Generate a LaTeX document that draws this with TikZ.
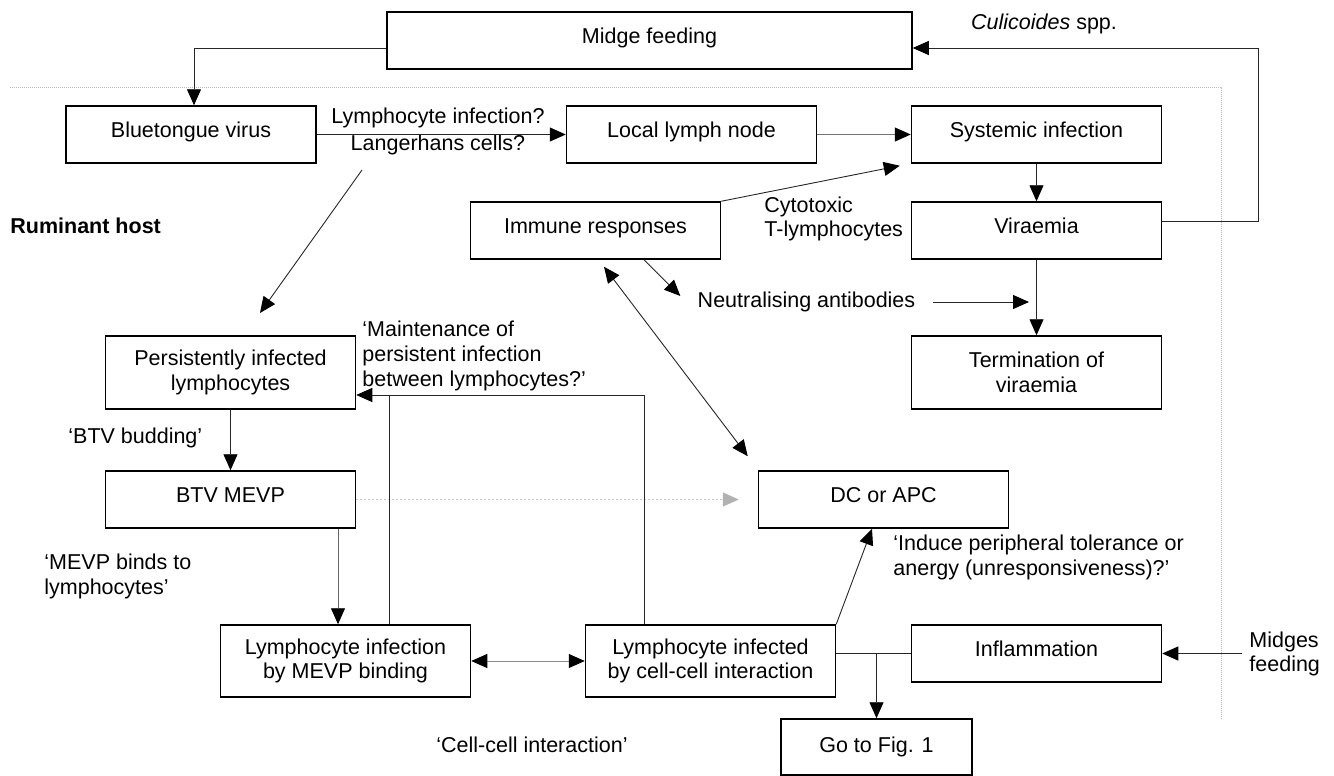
\documentclass[tikz,border=0pt]{standalone}
\usepackage{fontspec}
\setmainfont{Liberation Sans}
\usetikzlibrary{arrows.meta}
\newcommand\diagfont{\fontsize{10.75pt}{12.3pt}\selectfont}
\begin{document}
\begin{tikzpicture}[x=0.5pt,y=-0.5pt,font=\diagfont,
  box/.style={draw=black, line width=0.75pt, minimum width=125pt, minimum height=28.5pt, inner sep=2pt, align=center},
  one/.style={text height=8pt, text depth=5pt},
  lbl/.style={inner sep=0pt, align=left},
  conn/.style={draw=black!85, line width=0.45pt},
  arr/.style={conn, -{Triangle[length=8pt,width=7pt,color=black]}},
  darr/.style={conn, {Triangle[length=8pt,width=7pt,color=black]}-{Triangle[length=8pt,width=7pt,color=black]}},
  frame/.style={draw=gray!55, line width=0.5pt, dash pattern=on 0.5pt off 0.5pt}
]
\useasboundingbox (0,0) rectangle (1334,776);

% frame of the ruminant host
\draw[frame] (10,87) -- (1221,87) -- (1221,720);

% boxes
\node[box,one,minimum width=262.5pt] (midge) at (649.5,40.5) {Midge feeding};
\node[box,one] (btv) at (191,134.5) {Bluetongue virus};
\node[box,one] (lln) at (691.5,134.5) {Local lymph node};
\node[box,one] (sys) at (1036.5,134.5) {Systemic infection};
\node[box,one] (imm) at (595.5,230.5) {Immune responses};
\node[box,one] (vir) at (1036.5,230.5) {Viraemia};
\node[box,minimum height=36.5pt] (term) at (1036.5,372.5) {Termination of\\viraemia};
\node[box,minimum height=36.5pt] (pil) at (230.5,372.5) {Persistently infected\\lymphocytes};
\node[box,one] (mevp) at (230.5,499.5) {BTV MEVP};
\node[box,one] (dc) at (883.5,499.5) {DC or APC};
\node[box,minimum height=36pt] (lim) at (345.5,661) {Lymphocyte infection\\by MEVP binding};
\node[box,minimum height=36pt] (lic) at (710.5,661) {Lymphocyte infected\\by cell-cell interaction};
\node[box,one] (infl) at (1036.5,653.5) {Inflammation};
\node[box,minimum width=95.5pt,minimum height=28pt] (go) at (876.5,747) {Go to Fig. 1};

% labels
\node[lbl] (cul) at (1044,24) {\textit{Culicoides} spp.};
\node[lbl] (lyq) at (438,118) {Lymphocyte infection?};
\node[lbl] (lang) at (438,145) {Langerhans cells?};
\node[lbl,anchor=west,font=\diagfont\bfseries] (rum) at (10,226) {Ruminant host};
\node[lbl,anchor=west] (cyt) at (764,219) {Cytotoxic\\T-lymphocytes};
\node[lbl] (neut) at (806.5,302) {Neutralising antibodies};
\node[lbl,anchor=west] (maint) at (362,356) {‘Maintenance of\\persistent infection\\between lymphocytes?’};
\node[lbl,anchor=west] (bud) at (68,438) {‘BTV budding’};
\node[lbl,anchor=west] (binds) at (44,576.5) {‘MEVP binds to\\lymphocytes’};
\node[lbl,anchor=west] (ind) at (893,557.5) {‘Induce peripheral tolerance or\\anergy (unresponsiveness)?’};
\node[lbl] (cci) at (532,745) {‘Cell-cell interaction’};
\node[lbl,anchor=west] (mf) at (1249,654) {Midges\\feeding};

% coordinates for free ends
\coordinate (l1) at (362,170);
\coordinate (l2) at (260,313);
\coordinate (n2) at (1029,302);
\coordinate (m1) at ([xshift=53.75pt]mevp.south);
\coordinate (j1) at ([xshift=21.75pt]lim.north);
\coordinate (j2) at ([xshift=-33.25pt]lic.north);
\coordinate (pin) at ([yshift=-11.25pt]pil.east);
\coordinate (mfs) at ([xshift=-3.5pt]mf.west);

% connectors
\draw[arr] ([yshift=-3.75pt]midge.west) -| ([xshift=1.5pt]btv.north);
\draw[arr] ([yshift=4.75pt]vir.east) -- ++(96,0) |- ([yshift=-3.75pt]midge.east);
\draw[arr] (btv.east) -- (lln.west);
\draw[arr,draw=black!55] (lln.east) -- (sys.west);
\draw[arr] (sys.south) -- (vir.north);
\draw[arr] (vir.south) -- (term.north);
\draw[arr] (imm.north east) -- ([xshift=-5.5pt,yshift=-1pt]sys.south west);
\draw[arr] (l1) -- (l2);
\draw[arr] ([xshift=24.25pt]imm.south) -- ([xshift=-8.5pt,yshift=3pt]neut.west);
\draw[arr] ([xshift=8.5pt]neut.east) -- (n2);
\draw[darr] ([xshift=4.25pt,yshift=-3.5pt]imm.south) -- ([xshift=-5pt,yshift=7pt]dc.north west);
\draw[arr] (pil.south) -- (mevp.north);
\draw[draw=gray!45, line width=0.45pt, dash pattern=on 1pt off 1pt, -{Triangle[length=8pt,width=7pt,color=gray!60]}] (mevp.east) -- ([xshift=-9.5pt]dc.west);
\draw[arr,draw=black!60] (m1) -- (m1 |- lim.north);
\draw[arr] (j2) |- (pin);
\draw[conn] (j1) -- (j1 |- pin);
\draw[darr,draw=black!45] (lim.east) -- (lic.west);
\draw[arr] (lic.north east) -- ([xshift=-5.75pt]dc.south);
\draw[conn,line width=0.7pt] (lic.east |- infl.west) -- (infl.west);
\draw[arr] (go.north |- infl.west) -- (go.north);
\draw[arr] (mfs |- infl.east) -- (infl.east);
\end{tikzpicture}
\end{document}
